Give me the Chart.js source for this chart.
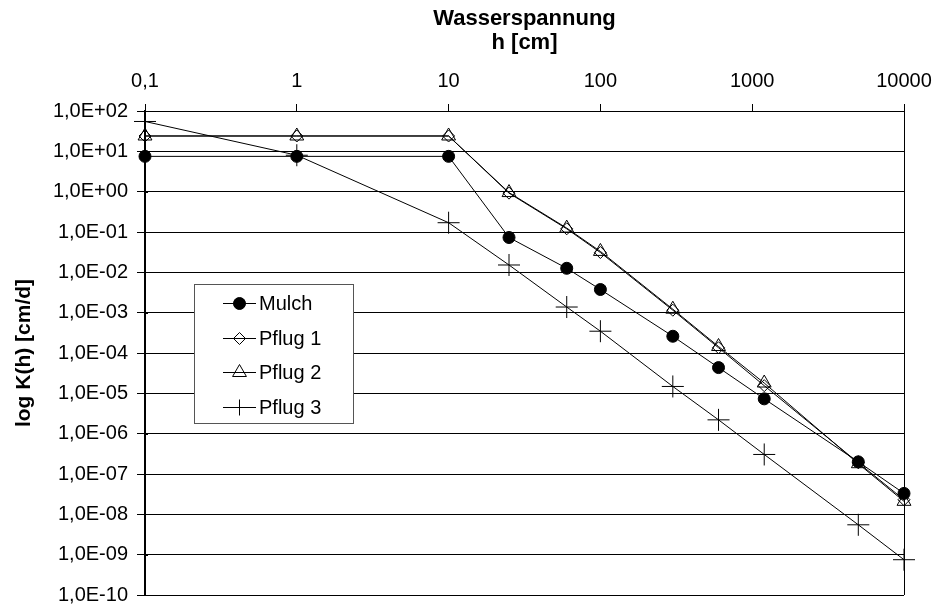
<!DOCTYPE html>
<html>
<head>
<meta charset="utf-8">
<script src="https://cdn.jsdelivr.net/npm/chart.js@4.4.0/dist/chart.umd.min.js"></script>
<style>
html,body{margin:0;padding:0;background:#fff;}
#wrap{width:936px;height:607px;}
</style>
</head>
<body>
<div id="wrap"><canvas id="c" width="936" height="607"></canvas></div>
<script>
// ---- data ----
const hValues = [0.1, 1, 10, 25, 60, 100, 300, 600, 1200, 5000, 10000];
const mulch  = [7.5, 7.5, 7.5, 0.073, 0.0126, 0.00375, 2.6e-4, 4.35e-5, 7.3e-6, 2.0e-7, 3.3e-8];
const pflug1 = [24, 24, 24, 0.92, 0.12, 0.031, 1.15e-3, 1.35e-4, 1.55e-5, 1.9e-7, 2.3e-8];
const pflug2 = [24, 24, 24, 0.95, 0.125, 0.033, 1.22e-3, 1.45e-4, 1.8e-5, 1.8e-7, 2.1e-8];
const pflug3 = [55, 8, 0.17, 0.0152, 1.38e-3, 3.47e-4, 1.48e-5, 2.2e-6, 3.05e-7, 5.5e-9, 7.5e-10];
const seriesNames = ['Mulch', 'Pflug 1', 'Pflug 2', 'Pflug 3'];

const xTicks = [0.1, 1, 10, 100, 1000, 10000];
const xTickLabels = ['0,1', '1', '10', '100', '1000', '10000'];
const yTicks = [1e-10, 1e-9, 1e-8, 1e-7, 1e-6, 1e-5, 1e-4, 1e-3, 1e-2, 1e-1, 1e0, 1e1, 1e2];
const yTickLabels = ['1,0E-10', '1,0E-09', '1,0E-08', '1,0E-07', '1,0E-06', '1,0E-05', '1,0E-04',
                     '1,0E-03', '1,0E-02', '1,0E-01', '1,0E+00', '1,0E+01', '1,0E+02'];
const xTitle = ['Wasserspannung', 'h [cm]'];
const yTitle = 'log K(h) [cm/d]';

const toPts = arr => hValues.map((h, i) => ({x: h, y: arr[i]}));
const FONT = '"Liberation Sans", Arial, sans-serif';

// inner part of the crossing y tick marks
const innerTicks = {
  id: 'innerTicks',
  beforeDatasetsDraw(chart) {
    const ctx = chart.ctx, ys = chart.scales.y, left = chart.chartArea.left;
    ctx.save();
    ctx.strokeStyle = '#000';
    ctx.lineWidth = 1;
    ys.ticks.forEach(t => {
      const p = Math.round(ys.getPixelForValue(t.value)) + 0.5;
      ctx.beginPath();
      ctx.moveTo(left, p);
      ctx.lineTo(left + 3, p);
      ctx.stroke();
    });
    ctx.restore();
  }
};

const legendPlugin = {
  id: 'boxLegend',
  afterDatasetsDraw(chart) {
    const ctx = chart.ctx, ca = chart.chartArea;
    const bx = ca.left + 49, by = ca.top + 173, bw = 159, bh = 139;
    ctx.save();
    ctx.fillStyle = '#fff';
    ctx.fillRect(bx, by, bw, bh);
    ctx.strokeStyle = '#555';
    ctx.lineWidth = 1;
    ctx.strokeRect(bx + 0.5, by + 0.5, bw, bh);
    chart.data.datasets.forEach((ds, i) => {
      const y = Math.round(by + 19 + i * 34.5);
      ctx.strokeStyle = '#000';
      ctx.lineWidth = 1;
      ctx.beginPath();
      ctx.moveTo(bx + 29, y + 0.5);
      ctx.lineTo(bx + 62, y + 0.5);
      ctx.stroke();
      ctx.fillStyle = ds.pointBackgroundColor;
      ctx.strokeStyle = '#000';
      Chart.helpers.drawPoint(ctx, {pointStyle: ds.pointStyle, radius: ds.legendRadius, rotation: 0, borderWidth: 1}, bx + 45.5, y + 0.5);
      ctx.fillStyle = '#000';
      ctx.font = '20px ' + FONT;
      ctx.textBaseline = 'middle';
      ctx.textAlign = 'left';
      ctx.fillText(ds.label, bx + 65, y + 1);
    });
    ctx.restore();
  }
};

const common = {borderColor: '#000', borderWidth: 1, pointBorderColor: '#000', pointBorderWidth: 1, tension: 0, fill: false, clip: false};

new Chart(document.getElementById('c'), {
  type: 'line',
  data: {
    datasets: [
      Object.assign({label: seriesNames[0], data: toPts(mulch), pointStyle: 'circle', pointRadius: 6, pointBackgroundColor: '#000', legendRadius: 6}, common),
      Object.assign({label: seriesNames[1], data: toPts(pflug1), pointStyle: 'rectRot', pointRadius: 6, pointBackgroundColor: 'rgba(0,0,0,0)', legendRadius: 6}, common),
      Object.assign({label: seriesNames[2], data: toPts(pflug2), pointStyle: 'triangle', pointRadius: 8, pointBackgroundColor: 'rgba(0,0,0,0)', legendRadius: 8}, common),
      Object.assign({label: seriesNames[3], data: toPts(pflug3), pointStyle: 'cross', pointRadius: 11, pointBackgroundColor: 'rgba(0,0,0,0)', legendRadius: 8}, common)
    ]
  },
  options: {
    responsive: false,
    animation: false,
    devicePixelRatio: 1,
    layout: {padding: {top: 0, left: 0, right: 32, bottom: 9}},
    plugins: {legend: {display: false}, tooltip: {enabled: false}},
    scales: {
      x: {
        type: 'logarithmic',
        position: 'top',
        min: 0.1, max: 10000,
        afterBuildTicks: s => { s.ticks = xTicks.map(v => ({value: v})); },
        afterFit: s => { s.height = 111; s.paddingLeft = 0; s.paddingRight = 0; s.paddingTop = 0; s.paddingBottom = 0; },
        ticks: {
          autoSkip: false, maxRotation: 0, color: '#000', padding: 11,
          font: {family: FONT, size: 20},
          callback: (v, i) => xTickLabels[i]
        },
        grid: {
          drawOnChartArea: true,
          color: c => (c.tick && c.tick.value === 10000) ? '#000' : 'rgba(0,0,0,0)',
          tickColor: '#000', tickLength: 7, lineWidth: 1
        },
        border: {display: true, color: '#000', width: 1},
        title: {
          display: true, text: xTitle, color: '#000',
          font: {family: FONT, size: 22, weight: 'bold', lineHeight: 1.1},
          padding: {top: 7, bottom: 0}
        }
      },
      y: {
        type: 'logarithmic',
        position: 'left',
        min: 1e-10, max: 1e2,
        afterBuildTicks: s => { s.ticks = yTicks.map(v => ({value: v})); },
        afterFit: s => { s.width = 145; s.paddingLeft = 0; s.paddingRight = 0; s.paddingTop = 0; s.paddingBottom = 0; },
        ticks: {
          autoSkip: false, color: '#000', padding: 9,
          font: {family: FONT, size: 20},
          callback: (v, i) => yTickLabels[i]
        },
        grid: {drawOnChartArea: true, color: '#000', tickColor: '#000', tickLength: 8, lineWidth: 1},
        border: {display: true, color: '#000', width: 2},
        title: {
          display: true, text: yTitle, color: '#000',
          font: {family: FONT, size: 21, weight: 'bold'},
          padding: {top: 12, bottom: 0}
        }
      }
    }
  },
  plugins: [innerTicks, legendPlugin]
});
</script>
</body>
</html>
